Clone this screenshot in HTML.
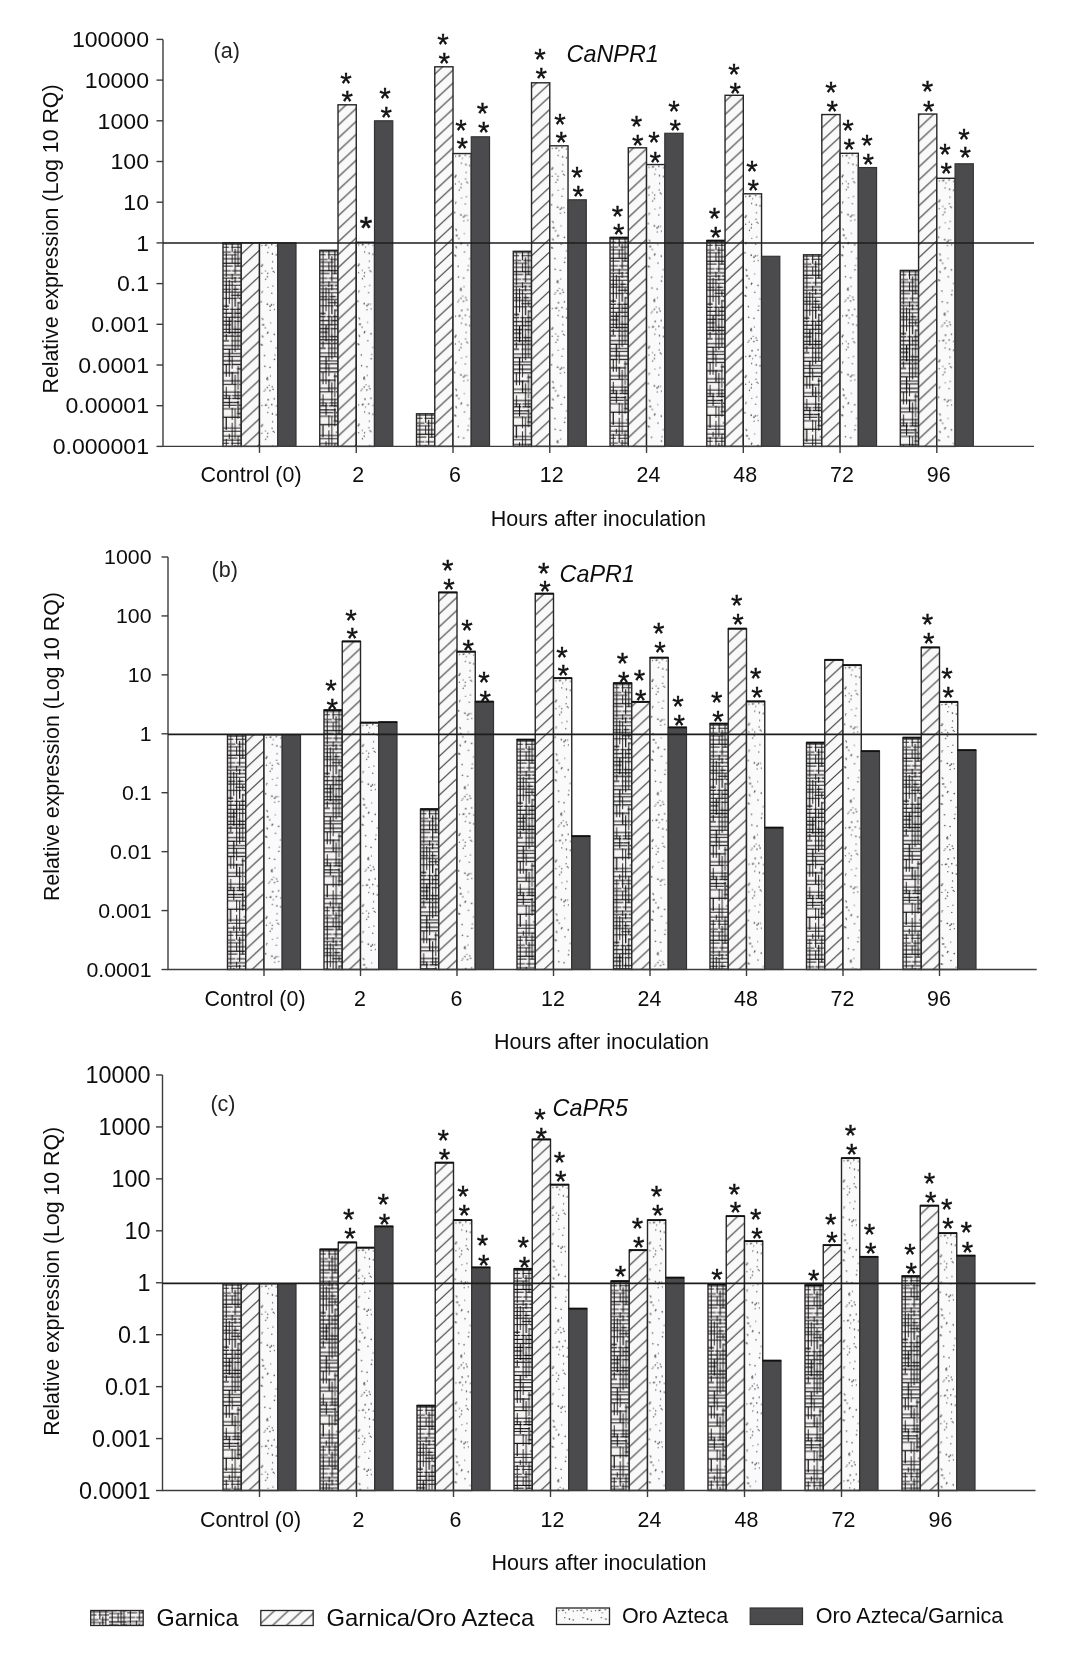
<!DOCTYPE html>
<html lang="en"><head><meta charset="utf-8"><title>Relative expression of CaNPR1, CaPR1 and CaPR5</title>
<style>html,body{margin:0;padding:0;background:#fff}body>svg{display:block;filter:blur(0.45px)}</style></head>
<body>
<svg width="1078" height="1659" viewBox="0 0 1078 1659" font-family="'Liberation Sans', Arial, sans-serif" fill="#0d0d0d">
<defs>
<pattern id="pw" patternUnits="userSpaceOnUse" width="18.25" height="196"><rect width="18.25" height="196" fill="#f6f3f3"/><path d="M0.0 1.2h18" stroke="#0d0d0d" stroke-width="1"/><path d="M18.0 1.2h14" stroke="#0d0d0d" stroke-width="0.9"/><path d="M0.0 4.4h6" stroke="#0d0d0d" stroke-width="0.9"/><path d="M8.0 4.4h18" stroke="#0d0d0d" stroke-width="0.9"/><path d="M0.0 9.2h8" stroke="#0d0d0d" stroke-width="0.9"/><path d="M10.0 9.2h8" stroke="#0d0d0d" stroke-width="0.9"/><path d="M18.0 9.2h18" stroke="#0d0d0d" stroke-width="0.9"/><path d="M0.0 12.0h6" stroke="#0d0d0d" stroke-width="0.9"/><path d="M6.0 12.0h8" stroke="#0d0d0d" stroke-width="0.9"/><path d="M0.0 16.0h10" stroke="#0d0d0d" stroke-width="1"/><path d="M10.0 16.0h8" stroke="#0d0d0d" stroke-width="1"/><path d="M0.0 20.4h18" stroke="#0d0d0d" stroke-width="1.2"/><path d="M0.0 23.2h10" stroke="#0d0d0d" stroke-width="1"/><path d="M12.0 23.2h18" stroke="#0d0d0d" stroke-width="1"/><path d="M0.0 28.0h8" stroke="#0d0d0d" stroke-width="0.9"/><path d="M9.0 28.0h14" stroke="#0d0d0d" stroke-width="1"/><path d="M0.0 32.0h18" stroke="#0d0d0d" stroke-width="1"/><path d="M18.0 32.0h18" stroke="#0d0d0d" stroke-width="0.9"/><path d="M0.0 35.2h14" stroke="#0d0d0d" stroke-width="1"/><path d="M15.0 35.2h14" stroke="#0d0d0d" stroke-width="1.2"/><path d="M0.0 38.8h6" stroke="#0d0d0d" stroke-width="0.9"/><path d="M6.0 38.8h10" stroke="#0d0d0d" stroke-width="1"/><path d="M16.0 38.8h10" stroke="#0d0d0d" stroke-width="1.2"/><path d="M0.0 42.4h18" stroke="#0d0d0d" stroke-width="0.9"/><path d="M18.0 42.4h18" stroke="#0d0d0d" stroke-width="1.2"/><path d="M0.0 46.4h8" stroke="#0d0d0d" stroke-width="0.9"/><path d="M10.0 46.4h6" stroke="#0d0d0d" stroke-width="1.2"/><path d="M17.0 46.4h10" stroke="#0d0d0d" stroke-width="1"/><path d="M0.0 49.2h18" stroke="#0d0d0d" stroke-width="1"/><path d="M8.0 52.4h18" stroke="#0d0d0d" stroke-width="1"/><path d="M0.0 55.6h14" stroke="#0d0d0d" stroke-width="0.9"/><path d="M16.0 55.6h10" stroke="#0d0d0d" stroke-width="1.2"/><path d="M15.0 60.0h14" stroke="#0d0d0d" stroke-width="1"/><path d="M0.0 63.2h6" stroke="#0d0d0d" stroke-width="1.2"/><path d="M0.0 66.4h6" stroke="#0d0d0d" stroke-width="1.2"/><path d="M7.0 66.4h6" stroke="#0d0d0d" stroke-width="1"/><path d="M13.0 66.4h10" stroke="#0d0d0d" stroke-width="1.2"/><path d="M0.0 70.4h10" stroke="#0d0d0d" stroke-width="1.2"/><path d="M11.0 70.4h10" stroke="#0d0d0d" stroke-width="1.2"/><path d="M0.0 74.4h18" stroke="#0d0d0d" stroke-width="1"/><path d="M0.0 78.4h10" stroke="#0d0d0d" stroke-width="1.2"/><path d="M11.0 78.4h10" stroke="#0d0d0d" stroke-width="1"/><path d="M0.0 82.0h8" stroke="#0d0d0d" stroke-width="1.2"/><path d="M0.0 86.4h8" stroke="#0d0d0d" stroke-width="1"/><path d="M10.0 86.4h10" stroke="#0d0d0d" stroke-width="1.2"/><path d="M0.0 89.6h18" stroke="#0d0d0d" stroke-width="1.2"/><path d="M0.0 93.2h18" stroke="#0d0d0d" stroke-width="1.2"/><path d="M0.0 98.0h6" stroke="#0d0d0d" stroke-width="1.2"/><path d="M8.0 98.0h18" stroke="#0d0d0d" stroke-width="0.9"/><path d="M0.0 102.8h18" stroke="#0d0d0d" stroke-width="1"/><path d="M18.0 102.8h8" stroke="#0d0d0d" stroke-width="0.9"/><path d="M0.0 106.4h8" stroke="#0d0d0d" stroke-width="1.2"/><path d="M8.0 106.4h14" stroke="#0d0d0d" stroke-width="1"/><path d="M0.0 110.8h8" stroke="#0d0d0d" stroke-width="1"/><path d="M8.0 110.8h10" stroke="#0d0d0d" stroke-width="1"/><path d="M0.0 113.6h18" stroke="#0d0d0d" stroke-width="1"/><path d="M18.0 113.6h18" stroke="#0d0d0d" stroke-width="0.9"/><path d="M0.0 118.0h18" stroke="#0d0d0d" stroke-width="1.2"/><path d="M0.0 121.6h8" stroke="#0d0d0d" stroke-width="1.2"/><path d="M9.0 121.6h14" stroke="#0d0d0d" stroke-width="1.2"/><path d="M14.0 126.0h18" stroke="#0d0d0d" stroke-width="1.2"/><path d="M0.0 130.0h6" stroke="#0d0d0d" stroke-width="1.2"/><path d="M6.0 130.0h10" stroke="#0d0d0d" stroke-width="1.2"/><path d="M18.0 130.0h14" stroke="#0d0d0d" stroke-width="0.9"/><path d="M0.0 138.0h18" stroke="#0d0d0d" stroke-width="1"/><path d="M0.0 141.6h14" stroke="#0d0d0d" stroke-width="1"/><path d="M16.0 141.6h10" stroke="#0d0d0d" stroke-width="0.9"/><path d="M18.0 146.4h10" stroke="#0d0d0d" stroke-width="0.9"/><path d="M0.0 149.2h14" stroke="#0d0d0d" stroke-width="1"/><path d="M14.0 149.2h14" stroke="#0d0d0d" stroke-width="0.9"/><path d="M0.0 152.8h8" stroke="#0d0d0d" stroke-width="1"/><path d="M9.0 152.8h14" stroke="#0d0d0d" stroke-width="1"/><path d="M0.0 155.6h8" stroke="#0d0d0d" stroke-width="1.2"/><path d="M9.0 155.6h18" stroke="#0d0d0d" stroke-width="1.2"/><path d="M0.0 159.6h10" stroke="#0d0d0d" stroke-width="1.2"/><path d="M10.0 159.6h6" stroke="#0d0d0d" stroke-width="1.2"/><path d="M0.0 162.4h14" stroke="#0d0d0d" stroke-width="1"/><path d="M16.0 162.4h14" stroke="#0d0d0d" stroke-width="1.2"/><path d="M0.0 166.0h14" stroke="#0d0d0d" stroke-width="0.9"/><path d="M15.0 166.0h6" stroke="#0d0d0d" stroke-width="1"/><path d="M14.0 170.8h8" stroke="#0d0d0d" stroke-width="1.2"/><path d="M0.0 174.4h18" stroke="#0d0d0d" stroke-width="1.2"/><path d="M18.0 174.4h6" stroke="#0d0d0d" stroke-width="1"/><path d="M16.0 182.0h18" stroke="#0d0d0d" stroke-width="0.9"/><path d="M0.0 185.2h18" stroke="#0d0d0d" stroke-width="0.9"/><path d="M18.0 185.2h10" stroke="#0d0d0d" stroke-width="1"/><path d="M0.0 188.4h18" stroke="#0d0d0d" stroke-width="0.9"/><path d="M18.0 188.4h18" stroke="#0d0d0d" stroke-width="1.2"/><path d="M0.0 193.2h14" stroke="#0d0d0d" stroke-width="1"/><path d="M14.0 193.2h18" stroke="#0d0d0d" stroke-width="1.2"/><path d="M3.2 0.0v9" stroke="#0d0d0d" stroke-width="0.9"/><path d="M3.2 10.0v24" stroke="#0d0d0d" stroke-width="1"/><path d="M3.2 35.0v6" stroke="#0d0d0d" stroke-width="1"/><path d="M3.2 41.0v24" stroke="#0d0d0d" stroke-width="1.2"/><path d="M3.2 66.0v24" stroke="#0d0d0d" stroke-width="0.9"/><path d="M3.2 91.0v6" stroke="#0d0d0d" stroke-width="1"/><path d="M3.2 122.0v12" stroke="#0d0d0d" stroke-width="1"/><path d="M3.2 144.0v6" stroke="#0d0d0d" stroke-width="0.9"/><path d="M3.2 150.0v6" stroke="#0d0d0d" stroke-width="1"/><path d="M3.2 175.0v12" stroke="#0d0d0d" stroke-width="1.2"/><path d="M6.3 37.0v24" stroke="#0d0d0d" stroke-width="0.9"/><path d="M6.3 75.0v16" stroke="#0d0d0d" stroke-width="1.2"/><path d="M6.3 107.0v12" stroke="#0d0d0d" stroke-width="1.2"/><path d="M6.3 119.0v9" stroke="#0d0d0d" stroke-width="0.9"/><path d="M6.3 128.0v6" stroke="#0d0d0d" stroke-width="0.9"/><path d="M6.3 153.0v12" stroke="#0d0d0d" stroke-width="1"/><path d="M6.3 191.0v16" stroke="#0d0d0d" stroke-width="0.9"/><path d="M9.2 0.0v9" stroke="#0d0d0d" stroke-width="1"/><path d="M9.2 12.0v9" stroke="#0d0d0d" stroke-width="0.9"/><path d="M9.2 31.0v6" stroke="#0d0d0d" stroke-width="0.9"/><path d="M9.2 38.0v12" stroke="#0d0d0d" stroke-width="0.9"/><path d="M9.2 50.0v16" stroke="#0d0d0d" stroke-width="0.9"/><path d="M9.2 66.0v12" stroke="#0d0d0d" stroke-width="1.2"/><path d="M9.2 78.0v9" stroke="#0d0d0d" stroke-width="1.2"/><path d="M9.2 87.0v24" stroke="#0d0d0d" stroke-width="0.9"/><path d="M9.2 114.0v12" stroke="#0d0d0d" stroke-width="0.9"/><path d="M9.2 129.0v12" stroke="#0d0d0d" stroke-width="1.2"/><path d="M9.2 165.0v12" stroke="#0d0d0d" stroke-width="0.9"/><path d="M9.2 180.0v16" stroke="#0d0d0d" stroke-width="0.9"/><path d="M12.2 6.0v16" stroke="#0d0d0d" stroke-width="1"/><path d="M12.2 22.0v9" stroke="#0d0d0d" stroke-width="1"/><path d="M12.2 34.0v6" stroke="#0d0d0d" stroke-width="1"/><path d="M12.2 43.0v12" stroke="#0d0d0d" stroke-width="0.9"/><path d="M12.2 55.0v9" stroke="#0d0d0d" stroke-width="1.2"/><path d="M12.2 67.0v9" stroke="#0d0d0d" stroke-width="0.9"/><path d="M12.2 77.0v6" stroke="#0d0d0d" stroke-width="0.9"/><path d="M12.2 83.0v9" stroke="#0d0d0d" stroke-width="1"/><path d="M12.2 93.0v16" stroke="#0d0d0d" stroke-width="1"/><path d="M12.2 132.0v24" stroke="#0d0d0d" stroke-width="1"/><path d="M12.2 166.0v16" stroke="#0d0d0d" stroke-width="0.9"/><path d="M12.2 182.0v16" stroke="#0d0d0d" stroke-width="0.9"/><path d="M15.2 0.0v24" stroke="#0d0d0d" stroke-width="1"/><path d="M15.2 50.0v6" stroke="#0d0d0d" stroke-width="1"/><path d="M15.2 59.0v24" stroke="#0d0d0d" stroke-width="1"/><path d="M15.2 83.0v24" stroke="#0d0d0d" stroke-width="0.9"/><path d="M15.2 123.0v24" stroke="#0d0d0d" stroke-width="0.9"/><path d="M15.2 148.0v9" stroke="#0d0d0d" stroke-width="1"/><path d="M15.2 158.0v12" stroke="#0d0d0d" stroke-width="1.2"/><path d="M15.2 170.0v6" stroke="#0d0d0d" stroke-width="0.9"/><path d="M15.2 193.0v9" stroke="#0d0d0d" stroke-width="0.9"/></pattern>
<pattern id="pd" patternUnits="userSpaceOnUse" width="18.25" height="160"><rect width="18.25" height="160" fill="#fbfafa"/><circle cx="8.4" cy="89.6" r="0.8" fill="#444"/><circle cx="8.4" cy="136.8" r="0.65" fill="#444"/><circle cx="4.3" cy="81.9" r="0.65" fill="#444"/><circle cx="2.9" cy="48.5" r="0.6" fill="#444"/><circle cx="9.7" cy="142.5" r="0.6" fill="#444"/><circle cx="10.6" cy="63.4" r="0.8" fill="#444"/><circle cx="11.5" cy="98.5" r="0.65" fill="#444"/><circle cx="11.0" cy="133.1" r="0.6" fill="#444"/><circle cx="2.4" cy="30.4" r="0.65" fill="#444"/><circle cx="10.6" cy="124.5" r="0.75" fill="#444"/><circle cx="8.2" cy="134.8" r="0.65" fill="#444"/><circle cx="11.3" cy="80.0" r="0.6" fill="#444"/><circle cx="8.5" cy="44.5" r="0.6" fill="#444"/><circle cx="12.3" cy="50.4" r="0.65" fill="#444"/><circle cx="9.3" cy="4.8" r="0.6" fill="#444"/><circle cx="7.6" cy="135.5" r="0.8" fill="#444"/><circle cx="2.5" cy="2.7" r="0.6" fill="#444"/><circle cx="4.8" cy="148.3" r="0.6" fill="#444"/><circle cx="8.7" cy="156.9" r="0.8" fill="#444"/><circle cx="7.9" cy="90.6" r="0.65" fill="#444"/><circle cx="13.4" cy="43.2" r="0.6" fill="#444"/><circle cx="6.2" cy="2.4" r="0.8" fill="#444"/><circle cx="13.1" cy="18.9" r="0.65" fill="#444"/><circle cx="12.3" cy="1.8" r="0.8" fill="#444"/><circle cx="13.7" cy="28.4" r="0.65" fill="#444"/><circle cx="8.3" cy="30.5" r="0.65" fill="#444"/><circle cx="7.9" cy="61.4" r="0.8" fill="#444"/><circle cx="7.9" cy="34.1" r="0.75" fill="#444"/><circle cx="14.7" cy="156.0" r="0.75" fill="#444"/><circle cx="16.7" cy="3.1" r="0.65" fill="#444"/><circle cx="7.5" cy="136.7" r="0.6" fill="#444"/><circle cx="2.1" cy="23.4" r="0.8" fill="#444"/><circle cx="5.4" cy="123.6" r="0.75" fill="#444"/><circle cx="14.2" cy="61.8" r="0.6" fill="#444"/><circle cx="2.9" cy="93.2" r="0.65" fill="#444"/><circle cx="1.7" cy="59.0" r="0.8" fill="#444"/><circle cx="3.4" cy="94.0" r="0.65" fill="#444"/><circle cx="14.7" cy="29.3" r="0.65" fill="#444"/><circle cx="6.2" cy="36.5" r="0.65" fill="#444"/><circle cx="12.6" cy="25.4" r="0.65" fill="#444"/><circle cx="12.0" cy="62.1" r="0.8" fill="#444"/><circle cx="10.7" cy="67.4" r="0.6" fill="#444"/><circle cx="3.2" cy="82.0" r="0.75" fill="#444"/><circle cx="5.1" cy="112.7" r="0.75" fill="#444"/><circle cx="7.9" cy="144.8" r="0.8" fill="#444"/><circle cx="6.0" cy="28.1" r="0.6" fill="#444"/><circle cx="3.4" cy="76.7" r="0.6" fill="#444"/><circle cx="5.8" cy="146.8" r="0.65" fill="#444"/><circle cx="12.9" cy="11.1" r="0.8" fill="#444"/><circle cx="8.3" cy="9.7" r="0.65" fill="#444"/><circle cx="5.8" cy="85.0" r="0.65" fill="#444"/><circle cx="2.9" cy="22.1" r="0.8" fill="#444"/><circle cx="16.5" cy="105.1" r="0.65" fill="#444"/><circle cx="10.5" cy="147.8" r="0.8" fill="#444"/><circle cx="15.4" cy="112.2" r="0.6" fill="#444"/><circle cx="1.8" cy="101.8" r="0.8" fill="#444"/><circle cx="2.5" cy="49.8" r="0.65" fill="#444"/><circle cx="16.7" cy="12.0" r="0.75" fill="#444"/><circle cx="12.7" cy="144.0" r="0.65" fill="#444"/><circle cx="13.6" cy="146.4" r="0.75" fill="#444"/><circle cx="2.8" cy="75.7" r="0.6" fill="#444"/><circle cx="14.8" cy="66.7" r="0.6" fill="#444"/><circle cx="14.7" cy="91.6" r="0.8" fill="#444"/><circle cx="7.3" cy="2.0" r="0.6" fill="#444"/><circle cx="2.7" cy="102.3" r="0.75" fill="#444"/><circle cx="14.9" cy="116.5" r="0.8" fill="#444"/></pattern>
<pattern id="ph" patternUnits="userSpaceOnUse" width="13.9" height="12.95"><rect width="13.9" height="12.95" fill="#faf9f9"/><path d="M-13.9 25.9L27.8 -12.95M-13.9 12.95L13.9 -12.95M0 25.9L27.8 0" stroke="#3d3d3d" stroke-width="1.1" fill="none"/></pattern>
</defs>
<rect width="1078" height="1659" fill="#ffffff"/>
<svg x="223.00" y="242.80" width="18.25" height="203.60"><rect x="0" y="-46.80" width="18.25" height="399.60" fill="url(#pw)"/></svg>
<rect x="223.00" y="242.80" width="18.25" height="203.60" fill="none" stroke="#262626" stroke-width="1.4"/>
<rect x="241.25" y="242.80" width="18.25" height="203.60" fill="url(#ph)"/>
<rect x="241.25" y="242.80" width="18.25" height="203.60" fill="none" stroke="#262626" stroke-width="1.4"/>
<svg x="259.50" y="242.80" width="18.25" height="203.60"><rect x="0" y="-82.80" width="18.25" height="399.60" fill="url(#pd)"/></svg>
<rect x="259.50" y="242.80" width="18.25" height="203.60" fill="none" stroke="#262626" stroke-width="1.4"/>
<rect x="277.75" y="242.80" width="18.25" height="203.60" fill="#4b4b4d" stroke="#333" stroke-width="1.2"/>
<svg x="319.76" y="250.30" width="18.25" height="196.10"><rect x="0" y="-54.30" width="18.25" height="392.10" fill="url(#pw)"/></svg>
<rect x="319.76" y="250.30" width="18.25" height="196.10" fill="none" stroke="#262626" stroke-width="1.4"/>
<rect x="338.01" y="104.80" width="18.25" height="341.60" fill="url(#ph)"/>
<rect x="338.01" y="104.80" width="18.25" height="341.60" fill="none" stroke="#262626" stroke-width="1.4"/>
<svg x="356.26" y="242.30" width="18.25" height="204.10"><rect x="0" y="-82.30" width="18.25" height="400.10" fill="url(#pd)"/></svg>
<rect x="356.26" y="242.30" width="18.25" height="204.10" fill="none" stroke="#262626" stroke-width="1.4"/>
<rect x="374.51" y="120.80" width="18.25" height="325.60" fill="#4b4b4d" stroke="#333" stroke-width="1.2"/>
<svg x="416.52" y="413.80" width="18.25" height="32.60"><rect x="0" y="-21.80" width="18.25" height="228.60" fill="url(#pw)"/></svg>
<rect x="416.52" y="413.80" width="18.25" height="32.60" fill="none" stroke="#262626" stroke-width="1.4"/>
<rect x="434.77" y="66.80" width="18.25" height="379.60" fill="url(#ph)"/>
<rect x="434.77" y="66.80" width="18.25" height="379.60" fill="none" stroke="#262626" stroke-width="1.4"/>
<svg x="453.02" y="153.55" width="18.25" height="292.85"><rect x="0" y="-153.55" width="18.25" height="488.85" fill="url(#pd)"/></svg>
<rect x="453.02" y="153.55" width="18.25" height="292.85" fill="none" stroke="#262626" stroke-width="1.4"/>
<rect x="471.27" y="136.80" width="18.25" height="309.60" fill="#4b4b4d" stroke="#333" stroke-width="1.2"/>
<svg x="513.28" y="251.30" width="18.25" height="195.10"><rect x="0" y="-55.30" width="18.25" height="391.10" fill="url(#pw)"/></svg>
<rect x="513.28" y="251.30" width="18.25" height="195.10" fill="none" stroke="#262626" stroke-width="1.4"/>
<rect x="531.53" y="82.80" width="18.25" height="363.60" fill="url(#ph)"/>
<rect x="531.53" y="82.80" width="18.25" height="363.60" fill="none" stroke="#262626" stroke-width="1.4"/>
<svg x="549.78" y="145.80" width="18.25" height="300.60"><rect x="0" y="-145.80" width="18.25" height="496.60" fill="url(#pd)"/></svg>
<rect x="549.78" y="145.80" width="18.25" height="300.60" fill="none" stroke="#262626" stroke-width="1.4"/>
<rect x="568.03" y="199.80" width="18.25" height="246.60" fill="#4b4b4d" stroke="#333" stroke-width="1.2"/>
<svg x="610.04" y="237.80" width="18.25" height="208.60"><rect x="0" y="-41.80" width="18.25" height="404.60" fill="url(#pw)"/></svg>
<rect x="610.04" y="237.80" width="18.25" height="208.60" fill="none" stroke="#262626" stroke-width="1.4"/>
<path d="M609.74 237.60h18.85" stroke="#111" stroke-width="1.9"/>
<rect x="628.29" y="147.80" width="18.25" height="298.60" fill="url(#ph)"/>
<rect x="628.29" y="147.80" width="18.25" height="298.60" fill="none" stroke="#262626" stroke-width="1.4"/>
<svg x="646.54" y="164.55" width="18.25" height="281.85"><rect x="0" y="-4.55" width="18.25" height="477.85" fill="url(#pd)"/></svg>
<rect x="646.54" y="164.55" width="18.25" height="281.85" fill="none" stroke="#262626" stroke-width="1.4"/>
<rect x="664.79" y="133.30" width="18.25" height="313.10" fill="#4b4b4d" stroke="#333" stroke-width="1.2"/>
<svg x="706.80" y="240.80" width="18.25" height="205.60"><rect x="0" y="-44.80" width="18.25" height="401.60" fill="url(#pw)"/></svg>
<rect x="706.80" y="240.80" width="18.25" height="205.60" fill="none" stroke="#262626" stroke-width="1.4"/>
<path d="M706.50 240.60h18.85" stroke="#111" stroke-width="1.9"/>
<rect x="725.05" y="95.30" width="18.25" height="351.10" fill="url(#ph)"/>
<rect x="725.05" y="95.30" width="18.25" height="351.10" fill="none" stroke="#262626" stroke-width="1.4"/>
<svg x="743.30" y="193.80" width="18.25" height="252.60"><rect x="0" y="-33.80" width="18.25" height="448.60" fill="url(#pd)"/></svg>
<rect x="743.30" y="193.80" width="18.25" height="252.60" fill="none" stroke="#262626" stroke-width="1.4"/>
<rect x="761.55" y="256.30" width="18.25" height="190.10" fill="#4b4b4d" stroke="#333" stroke-width="1.2"/>
<svg x="803.56" y="254.80" width="18.25" height="191.60"><rect x="0" y="-58.80" width="18.25" height="387.60" fill="url(#pw)"/></svg>
<rect x="803.56" y="254.80" width="18.25" height="191.60" fill="none" stroke="#262626" stroke-width="1.4"/>
<rect x="821.81" y="114.55" width="18.25" height="331.85" fill="url(#ph)"/>
<rect x="821.81" y="114.55" width="18.25" height="331.85" fill="none" stroke="#262626" stroke-width="1.4"/>
<svg x="840.06" y="153.30" width="18.25" height="293.10"><rect x="0" y="-153.30" width="18.25" height="489.10" fill="url(#pd)"/></svg>
<rect x="840.06" y="153.30" width="18.25" height="293.10" fill="none" stroke="#262626" stroke-width="1.4"/>
<rect x="858.31" y="167.55" width="18.25" height="278.85" fill="#4b4b4d" stroke="#333" stroke-width="1.2"/>
<svg x="900.32" y="270.40" width="18.25" height="176.00"><rect x="0" y="-74.40" width="18.25" height="372.00" fill="url(#pw)"/></svg>
<rect x="900.32" y="270.40" width="18.25" height="176.00" fill="none" stroke="#262626" stroke-width="1.4"/>
<rect x="918.57" y="114.05" width="18.25" height="332.35" fill="url(#ph)"/>
<rect x="918.57" y="114.05" width="18.25" height="332.35" fill="none" stroke="#262626" stroke-width="1.4"/>
<svg x="936.82" y="178.30" width="18.25" height="268.10"><rect x="0" y="-18.30" width="18.25" height="464.10" fill="url(#pd)"/></svg>
<rect x="936.82" y="178.30" width="18.25" height="268.10" fill="none" stroke="#262626" stroke-width="1.4"/>
<rect x="955.07" y="163.80" width="18.25" height="282.60" fill="#4b4b4d" stroke="#333" stroke-width="1.2"/>
<path d="M163 39.4V446.4H1034" stroke="#3c3c3c" stroke-width="1.4" fill="none"/>
<path d="M163 243.0H1034" stroke="#1c1c1c" stroke-width="1.6"/>
<path d="M156.5 39.40H163" stroke="#3c3c3c" stroke-width="1.4"/>
<text x="149" y="47.14" font-size="22.3" text-anchor="end" textLength="77.1" lengthAdjust="spacingAndGlyphs">100000</text>
<path d="M156.5 80.10H163" stroke="#3c3c3c" stroke-width="1.4"/>
<text x="149" y="87.84" font-size="22.3" text-anchor="end" textLength="64.2" lengthAdjust="spacingAndGlyphs">10000</text>
<path d="M156.5 120.80H163" stroke="#3c3c3c" stroke-width="1.4"/>
<text x="149" y="128.54" font-size="22.3" text-anchor="end" textLength="51.4" lengthAdjust="spacingAndGlyphs">1000</text>
<path d="M156.5 161.50H163" stroke="#3c3c3c" stroke-width="1.4"/>
<text x="149" y="169.24" font-size="22.3" text-anchor="end" textLength="38.5" lengthAdjust="spacingAndGlyphs">100</text>
<path d="M156.5 202.20H163" stroke="#3c3c3c" stroke-width="1.4"/>
<text x="149" y="209.94" font-size="22.3" text-anchor="end" textLength="25.7" lengthAdjust="spacingAndGlyphs">10</text>
<path d="M156.5 242.90H163" stroke="#3c3c3c" stroke-width="1.4"/>
<text x="149" y="250.64" font-size="22.3" text-anchor="end" textLength="12.8" lengthAdjust="spacingAndGlyphs">1</text>
<path d="M156.5 283.60H163" stroke="#3c3c3c" stroke-width="1.4"/>
<text x="149" y="291.34" font-size="22.3" text-anchor="end" textLength="32.1" lengthAdjust="spacingAndGlyphs">0.1</text>
<path d="M156.5 324.30H163" stroke="#3c3c3c" stroke-width="1.4"/>
<text x="149" y="332.04" font-size="22.3" text-anchor="end" textLength="57.8" lengthAdjust="spacingAndGlyphs">0.001</text>
<path d="M156.5 365.00H163" stroke="#3c3c3c" stroke-width="1.4"/>
<text x="149" y="372.74" font-size="22.3" text-anchor="end" textLength="70.7" lengthAdjust="spacingAndGlyphs">0.0001</text>
<path d="M156.5 405.70H163" stroke="#3c3c3c" stroke-width="1.4"/>
<text x="149" y="413.44" font-size="22.3" text-anchor="end" textLength="83.5" lengthAdjust="spacingAndGlyphs">0.00001</text>
<path d="M156.5 446.40H163" stroke="#3c3c3c" stroke-width="1.4"/>
<text x="149" y="454.14" font-size="22.3" text-anchor="end" textLength="96.3" lengthAdjust="spacingAndGlyphs">0.000001</text>
<path d="M259.50 446.4v6.5" stroke="#3c3c3c" stroke-width="1.4"/>
<text x="251" y="482.1" font-size="21.4" text-anchor="middle">Control (0)</text>
<path d="M356.26 446.4v6.5" stroke="#3c3c3c" stroke-width="1.4"/>
<text x="358.16" y="482.1" font-size="21.4" text-anchor="middle">2</text>
<path d="M453.02 446.4v6.5" stroke="#3c3c3c" stroke-width="1.4"/>
<text x="454.92" y="482.1" font-size="21.4" text-anchor="middle">6</text>
<path d="M549.78 446.4v6.5" stroke="#3c3c3c" stroke-width="1.4"/>
<text x="551.68" y="482.1" font-size="21.4" text-anchor="middle">12</text>
<path d="M646.54 446.4v6.5" stroke="#3c3c3c" stroke-width="1.4"/>
<text x="648.44" y="482.1" font-size="21.4" text-anchor="middle">24</text>
<path d="M743.30 446.4v6.5" stroke="#3c3c3c" stroke-width="1.4"/>
<text x="745.20" y="482.1" font-size="21.4" text-anchor="middle">48</text>
<path d="M840.06 446.4v6.5" stroke="#3c3c3c" stroke-width="1.4"/>
<text x="841.96" y="482.1" font-size="21.4" text-anchor="middle">72</text>
<path d="M936.82 446.4v6.5" stroke="#3c3c3c" stroke-width="1.4"/>
<text x="938.72" y="482.1" font-size="21.4" text-anchor="middle">96</text>
<text x="598.3" y="525.5" font-size="21.5" text-anchor="middle">Hours after inoculation</text>
<text transform="translate(57.6 239) rotate(-90)" font-size="21.3" text-anchor="middle">Relative expression (Log 10 RQ)</text>
<text x="213.6" y="57.7" font-size="21.5" fill="#222">(a)</text>
<text x="566.5" y="61.5" font-size="23.4" font-style="italic">CaNPR1</text>
<text x="346.00" y="92.57" font-size="29.5" text-anchor="middle" fill="#111" stroke="#111" stroke-width="0.35">*</text>
<text x="347.20" y="110.57" font-size="29.5" text-anchor="middle" fill="#111" stroke="#111" stroke-width="0.35">*</text>
<text x="365.90" y="239.36" font-size="32" text-anchor="middle" fill="#111" stroke="#111" stroke-width="0.7">*</text>
<text x="385.00" y="107.57" font-size="29.5" text-anchor="middle" fill="#111" stroke="#111" stroke-width="0.35">*</text>
<text x="386.20" y="126.57" font-size="29.5" text-anchor="middle" fill="#111" stroke="#111" stroke-width="0.35">*</text>
<text x="443.00" y="53.57" font-size="29.5" text-anchor="middle" fill="#111" stroke="#111" stroke-width="0.35">*</text>
<text x="444.20" y="72.57" font-size="29.5" text-anchor="middle" fill="#111" stroke="#111" stroke-width="0.35">*</text>
<text x="461.00" y="139.57" font-size="29.5" text-anchor="middle" fill="#111" stroke="#111" stroke-width="0.35">*</text>
<text x="462.20" y="158.07" font-size="29.5" text-anchor="middle" fill="#111" stroke="#111" stroke-width="0.35">*</text>
<text x="482.50" y="122.57" font-size="29.5" text-anchor="middle" fill="#111" stroke="#111" stroke-width="0.35">*</text>
<text x="483.70" y="141.57" font-size="29.5" text-anchor="middle" fill="#111" stroke="#111" stroke-width="0.35">*</text>
<text x="540.00" y="68.57" font-size="29.5" text-anchor="middle" fill="#111" stroke="#111" stroke-width="0.35">*</text>
<text x="541.20" y="87.57" font-size="29.5" text-anchor="middle" fill="#111" stroke="#111" stroke-width="0.35">*</text>
<text x="560.00" y="133.57" font-size="29.5" text-anchor="middle" fill="#111" stroke="#111" stroke-width="0.35">*</text>
<text x="561.20" y="151.57" font-size="29.5" text-anchor="middle" fill="#111" stroke="#111" stroke-width="0.35">*</text>
<text x="577.00" y="186.57" font-size="29.5" text-anchor="middle" fill="#111" stroke="#111" stroke-width="0.35">*</text>
<text x="578.20" y="206.07" font-size="29.5" text-anchor="middle" fill="#111" stroke="#111" stroke-width="0.35">*</text>
<text x="617.50" y="225.57" font-size="29.5" text-anchor="middle" fill="#111" stroke="#111" stroke-width="0.35">*</text>
<text x="618.70" y="244.07" font-size="29.5" text-anchor="middle" fill="#111" stroke="#111" stroke-width="0.35">*</text>
<text x="636.50" y="135.57" font-size="29.5" text-anchor="middle" fill="#111" stroke="#111" stroke-width="0.35">*</text>
<text x="637.70" y="154.57" font-size="29.5" text-anchor="middle" fill="#111" stroke="#111" stroke-width="0.35">*</text>
<text x="654.00" y="152.07" font-size="29.5" text-anchor="middle" fill="#111" stroke="#111" stroke-width="0.35">*</text>
<text x="655.20" y="171.57" font-size="29.5" text-anchor="middle" fill="#111" stroke="#111" stroke-width="0.35">*</text>
<text x="674.00" y="120.57" font-size="29.5" text-anchor="middle" fill="#111" stroke="#111" stroke-width="0.35">*</text>
<text x="675.20" y="139.57" font-size="29.5" text-anchor="middle" fill="#111" stroke="#111" stroke-width="0.35">*</text>
<text x="714.50" y="227.57" font-size="29.5" text-anchor="middle" fill="#111" stroke="#111" stroke-width="0.35">*</text>
<text x="715.70" y="247.07" font-size="29.5" text-anchor="middle" fill="#111" stroke="#111" stroke-width="0.35">*</text>
<text x="734.00" y="83.57" font-size="29.5" text-anchor="middle" fill="#111" stroke="#111" stroke-width="0.35">*</text>
<text x="735.20" y="102.57" font-size="29.5" text-anchor="middle" fill="#111" stroke="#111" stroke-width="0.35">*</text>
<text x="752.00" y="180.57" font-size="29.5" text-anchor="middle" fill="#111" stroke="#111" stroke-width="0.35">*</text>
<text x="753.20" y="199.57" font-size="29.5" text-anchor="middle" fill="#111" stroke="#111" stroke-width="0.35">*</text>
<text x="831.00" y="101.57" font-size="29.5" text-anchor="middle" fill="#111" stroke="#111" stroke-width="0.35">*</text>
<text x="832.20" y="120.57" font-size="29.5" text-anchor="middle" fill="#111" stroke="#111" stroke-width="0.35">*</text>
<text x="848.00" y="140.07" font-size="29.5" text-anchor="middle" fill="#111" stroke="#111" stroke-width="0.35">*</text>
<text x="849.20" y="158.57" font-size="29.5" text-anchor="middle" fill="#111" stroke="#111" stroke-width="0.35">*</text>
<text x="867.00" y="154.57" font-size="29.5" text-anchor="middle" fill="#111" stroke="#111" stroke-width="0.35">*</text>
<text x="868.20" y="173.57" font-size="29.5" text-anchor="middle" fill="#111" stroke="#111" stroke-width="0.35">*</text>
<text x="927.50" y="100.57" font-size="29.5" text-anchor="middle" fill="#111" stroke="#111" stroke-width="0.35">*</text>
<text x="928.70" y="120.57" font-size="29.5" text-anchor="middle" fill="#111" stroke="#111" stroke-width="0.35">*</text>
<text x="945.00" y="163.57" font-size="29.5" text-anchor="middle" fill="#111" stroke="#111" stroke-width="0.35">*</text>
<text x="946.20" y="182.57" font-size="29.5" text-anchor="middle" fill="#111" stroke="#111" stroke-width="0.35">*</text>
<text x="964.00" y="148.57" font-size="29.5" text-anchor="middle" fill="#111" stroke="#111" stroke-width="0.35">*</text>
<text x="965.20" y="167.07" font-size="29.5" text-anchor="middle" fill="#111" stroke="#111" stroke-width="0.35">*</text>
<svg x="227.50" y="734.80" width="18.25" height="234.70"><rect x="0" y="-146.80" width="18.25" height="430.70" fill="url(#pw)"/></svg>
<rect x="227.50" y="734.80" width="18.25" height="234.70" fill="none" stroke="#262626" stroke-width="1.4"/>
<rect x="245.75" y="734.80" width="18.25" height="234.70" fill="url(#ph)"/>
<rect x="245.75" y="734.80" width="18.25" height="234.70" fill="none" stroke="#262626" stroke-width="1.4"/>
<svg x="264.00" y="734.80" width="18.25" height="234.70"><rect x="0" y="-94.80" width="18.25" height="430.70" fill="url(#pd)"/></svg>
<rect x="264.00" y="734.80" width="18.25" height="234.70" fill="none" stroke="#262626" stroke-width="1.4"/>
<rect x="282.25" y="734.80" width="18.25" height="234.70" fill="#4b4b4d" stroke="#333" stroke-width="1.2"/>
<svg x="324.00" y="710.30" width="18.25" height="259.20"><rect x="0" y="-122.30" width="18.25" height="455.20" fill="url(#pw)"/></svg>
<rect x="324.00" y="710.30" width="18.25" height="259.20" fill="none" stroke="#262626" stroke-width="1.4"/>
<path d="M323.70 710.10h18.85" stroke="#111" stroke-width="1.9"/>
<rect x="342.25" y="641.55" width="18.25" height="327.95" fill="url(#ph)"/>
<rect x="342.25" y="641.55" width="18.25" height="327.95" fill="none" stroke="#262626" stroke-width="1.4"/>
<path d="M341.95 641.35h18.85" stroke="#111" stroke-width="1.9"/>
<svg x="360.50" y="722.80" width="18.25" height="246.70"><rect x="0" y="-82.80" width="18.25" height="442.70" fill="url(#pd)"/></svg>
<rect x="360.50" y="722.80" width="18.25" height="246.70" fill="none" stroke="#262626" stroke-width="1.4"/>
<path d="M360.20 722.60h18.85" stroke="#111" stroke-width="1.9"/>
<rect x="378.75" y="722.30" width="18.25" height="247.20" fill="#4b4b4d" stroke="#333" stroke-width="1.2"/>
<path d="M378.45 722.10h18.85" stroke="#111" stroke-width="1.9"/>
<svg x="420.50" y="809.30" width="18.25" height="160.20"><rect x="0" y="-25.30" width="18.25" height="356.20" fill="url(#pw)"/></svg>
<rect x="420.50" y="809.30" width="18.25" height="160.20" fill="none" stroke="#262626" stroke-width="1.4"/>
<path d="M420.20 809.10h18.85" stroke="#111" stroke-width="1.9"/>
<rect x="438.75" y="592.55" width="18.25" height="376.95" fill="url(#ph)"/>
<rect x="438.75" y="592.55" width="18.25" height="376.95" fill="none" stroke="#262626" stroke-width="1.4"/>
<path d="M438.45 592.35h18.85" stroke="#111" stroke-width="1.9"/>
<svg x="457.00" y="651.80" width="18.25" height="317.70"><rect x="0" y="-11.80" width="18.25" height="513.70" fill="url(#pd)"/></svg>
<rect x="457.00" y="651.80" width="18.25" height="317.70" fill="none" stroke="#262626" stroke-width="1.4"/>
<path d="M456.70 651.60h18.85" stroke="#111" stroke-width="1.9"/>
<rect x="475.25" y="701.80" width="18.25" height="267.70" fill="#4b4b4d" stroke="#333" stroke-width="1.2"/>
<path d="M474.95 701.60h18.85" stroke="#111" stroke-width="1.9"/>
<svg x="517.00" y="739.80" width="18.25" height="229.70"><rect x="0" y="-151.80" width="18.25" height="425.70" fill="url(#pw)"/></svg>
<rect x="517.00" y="739.80" width="18.25" height="229.70" fill="none" stroke="#262626" stroke-width="1.4"/>
<path d="M516.70 739.60h18.85" stroke="#111" stroke-width="1.9"/>
<rect x="535.25" y="593.80" width="18.25" height="375.70" fill="url(#ph)"/>
<rect x="535.25" y="593.80" width="18.25" height="375.70" fill="none" stroke="#262626" stroke-width="1.4"/>
<path d="M534.95 593.60h18.85" stroke="#111" stroke-width="1.9"/>
<svg x="553.50" y="678.30" width="18.25" height="291.20"><rect x="0" y="-38.30" width="18.25" height="487.20" fill="url(#pd)"/></svg>
<rect x="553.50" y="678.30" width="18.25" height="291.20" fill="none" stroke="#262626" stroke-width="1.4"/>
<path d="M553.20 678.10h18.85" stroke="#111" stroke-width="1.9"/>
<rect x="571.75" y="836.30" width="18.25" height="133.20" fill="#4b4b4d" stroke="#333" stroke-width="1.2"/>
<path d="M571.45 836.10h18.85" stroke="#111" stroke-width="1.9"/>
<svg x="613.50" y="683.30" width="18.25" height="286.20"><rect x="0" y="-95.30" width="18.25" height="482.20" fill="url(#pw)"/></svg>
<rect x="613.50" y="683.30" width="18.25" height="286.20" fill="none" stroke="#262626" stroke-width="1.4"/>
<path d="M613.20 683.10h18.85" stroke="#111" stroke-width="1.9"/>
<rect x="631.75" y="702.05" width="18.25" height="267.45" fill="url(#ph)"/>
<rect x="631.75" y="702.05" width="18.25" height="267.45" fill="none" stroke="#262626" stroke-width="1.4"/>
<path d="M631.45 701.85h18.85" stroke="#111" stroke-width="1.9"/>
<svg x="650.00" y="657.80" width="18.25" height="311.70"><rect x="0" y="-17.80" width="18.25" height="507.70" fill="url(#pd)"/></svg>
<rect x="650.00" y="657.80" width="18.25" height="311.70" fill="none" stroke="#262626" stroke-width="1.4"/>
<path d="M649.70 657.60h18.85" stroke="#111" stroke-width="1.9"/>
<rect x="668.25" y="727.55" width="18.25" height="241.95" fill="#4b4b4d" stroke="#333" stroke-width="1.2"/>
<path d="M667.95 727.35h18.85" stroke="#111" stroke-width="1.9"/>
<svg x="710.00" y="723.80" width="18.25" height="245.70"><rect x="0" y="-135.80" width="18.25" height="441.70" fill="url(#pw)"/></svg>
<rect x="710.00" y="723.80" width="18.25" height="245.70" fill="none" stroke="#262626" stroke-width="1.4"/>
<path d="M709.70 723.60h18.85" stroke="#111" stroke-width="1.9"/>
<rect x="728.25" y="628.80" width="18.25" height="340.70" fill="url(#ph)"/>
<rect x="728.25" y="628.80" width="18.25" height="340.70" fill="none" stroke="#262626" stroke-width="1.4"/>
<path d="M727.95 628.60h18.85" stroke="#111" stroke-width="1.9"/>
<svg x="746.50" y="701.55" width="18.25" height="267.95"><rect x="0" y="-61.55" width="18.25" height="463.95" fill="url(#pd)"/></svg>
<rect x="746.50" y="701.55" width="18.25" height="267.95" fill="none" stroke="#262626" stroke-width="1.4"/>
<path d="M746.20 701.35h18.85" stroke="#111" stroke-width="1.9"/>
<rect x="764.75" y="827.80" width="18.25" height="141.70" fill="#4b4b4d" stroke="#333" stroke-width="1.2"/>
<path d="M764.45 827.60h18.85" stroke="#111" stroke-width="1.9"/>
<svg x="806.50" y="742.80" width="18.25" height="226.70"><rect x="0" y="-154.80" width="18.25" height="422.70" fill="url(#pw)"/></svg>
<rect x="806.50" y="742.80" width="18.25" height="226.70" fill="none" stroke="#262626" stroke-width="1.4"/>
<path d="M806.20 742.60h18.85" stroke="#111" stroke-width="1.9"/>
<rect x="824.75" y="660.05" width="18.25" height="309.45" fill="url(#ph)"/>
<rect x="824.75" y="660.05" width="18.25" height="309.45" fill="none" stroke="#262626" stroke-width="1.4"/>
<path d="M824.45 659.85h18.85" stroke="#111" stroke-width="1.9"/>
<svg x="843.00" y="665.30" width="18.25" height="304.20"><rect x="0" y="-25.30" width="18.25" height="500.20" fill="url(#pd)"/></svg>
<rect x="843.00" y="665.30" width="18.25" height="304.20" fill="none" stroke="#262626" stroke-width="1.4"/>
<path d="M842.70 665.10h18.85" stroke="#111" stroke-width="1.9"/>
<rect x="861.25" y="751.30" width="18.25" height="218.20" fill="#4b4b4d" stroke="#333" stroke-width="1.2"/>
<path d="M860.95 751.10h18.85" stroke="#111" stroke-width="1.9"/>
<svg x="903.00" y="737.80" width="18.25" height="231.70"><rect x="0" y="-149.80" width="18.25" height="427.70" fill="url(#pw)"/></svg>
<rect x="903.00" y="737.80" width="18.25" height="231.70" fill="none" stroke="#262626" stroke-width="1.4"/>
<path d="M902.70 737.60h18.85" stroke="#111" stroke-width="1.9"/>
<rect x="921.25" y="647.55" width="18.25" height="321.95" fill="url(#ph)"/>
<rect x="921.25" y="647.55" width="18.25" height="321.95" fill="none" stroke="#262626" stroke-width="1.4"/>
<path d="M920.95 647.35h18.85" stroke="#111" stroke-width="1.9"/>
<svg x="939.50" y="702.05" width="18.25" height="267.45"><rect x="0" y="-62.05" width="18.25" height="463.45" fill="url(#pd)"/></svg>
<rect x="939.50" y="702.05" width="18.25" height="267.45" fill="none" stroke="#262626" stroke-width="1.4"/>
<path d="M939.20 701.85h18.85" stroke="#111" stroke-width="1.9"/>
<rect x="957.75" y="750.30" width="18.25" height="219.20" fill="#4b4b4d" stroke="#333" stroke-width="1.2"/>
<path d="M957.45 750.10h18.85" stroke="#111" stroke-width="1.9"/>
<path d="M168 557V969.5H1036.7" stroke="#3c3c3c" stroke-width="1.4" fill="none"/>
<path d="M168 734.4H1036.7" stroke="#1c1c1c" stroke-width="1.6"/>
<path d="M161.5 557.00H168" stroke="#3c3c3c" stroke-width="1.4"/>
<text x="151.5" y="564.08" font-size="20.4" text-anchor="end" textLength="47.4" lengthAdjust="spacingAndGlyphs">1000</text>
<path d="M161.5 615.93H168" stroke="#3c3c3c" stroke-width="1.4"/>
<text x="151.5" y="623.01" font-size="20.4" text-anchor="end" textLength="35.5" lengthAdjust="spacingAndGlyphs">100</text>
<path d="M161.5 674.86H168" stroke="#3c3c3c" stroke-width="1.4"/>
<text x="151.5" y="681.94" font-size="20.4" text-anchor="end" textLength="23.7" lengthAdjust="spacingAndGlyphs">10</text>
<path d="M161.5 733.79H168" stroke="#3c3c3c" stroke-width="1.4"/>
<text x="151.5" y="740.87" font-size="20.4" text-anchor="end" textLength="11.8" lengthAdjust="spacingAndGlyphs">1</text>
<path d="M161.5 792.72H168" stroke="#3c3c3c" stroke-width="1.4"/>
<text x="151.5" y="799.80" font-size="20.4" text-anchor="end" textLength="29.6" lengthAdjust="spacingAndGlyphs">0.1</text>
<path d="M161.5 851.65H168" stroke="#3c3c3c" stroke-width="1.4"/>
<text x="151.5" y="858.73" font-size="20.4" text-anchor="end" textLength="41.5" lengthAdjust="spacingAndGlyphs">0.01</text>
<path d="M161.5 910.58H168" stroke="#3c3c3c" stroke-width="1.4"/>
<text x="151.5" y="917.66" font-size="20.4" text-anchor="end" textLength="53.3" lengthAdjust="spacingAndGlyphs">0.001</text>
<path d="M161.5 969.51H168" stroke="#3c3c3c" stroke-width="1.4"/>
<text x="151.5" y="976.59" font-size="20.4" text-anchor="end" textLength="65.1" lengthAdjust="spacingAndGlyphs">0.0001</text>
<path d="M264.00 969.5v6.5" stroke="#3c3c3c" stroke-width="1.4"/>
<text x="255" y="1006" font-size="21.4" text-anchor="middle">Control (0)</text>
<path d="M360.50 969.5v6.5" stroke="#3c3c3c" stroke-width="1.4"/>
<text x="360.00" y="1006" font-size="21.4" text-anchor="middle">2</text>
<path d="M457.00 969.5v6.5" stroke="#3c3c3c" stroke-width="1.4"/>
<text x="456.50" y="1006" font-size="21.4" text-anchor="middle">6</text>
<path d="M553.50 969.5v6.5" stroke="#3c3c3c" stroke-width="1.4"/>
<text x="553.00" y="1006" font-size="21.4" text-anchor="middle">12</text>
<path d="M650.00 969.5v6.5" stroke="#3c3c3c" stroke-width="1.4"/>
<text x="649.50" y="1006" font-size="21.4" text-anchor="middle">24</text>
<path d="M746.50 969.5v6.5" stroke="#3c3c3c" stroke-width="1.4"/>
<text x="746.00" y="1006" font-size="21.4" text-anchor="middle">48</text>
<path d="M843.00 969.5v6.5" stroke="#3c3c3c" stroke-width="1.4"/>
<text x="842.50" y="1006" font-size="21.4" text-anchor="middle">72</text>
<path d="M939.50 969.5v6.5" stroke="#3c3c3c" stroke-width="1.4"/>
<text x="939.00" y="1006" font-size="21.4" text-anchor="middle">96</text>
<text x="601.5" y="1049" font-size="21.5" text-anchor="middle">Hours after inoculation</text>
<text transform="translate(58.5 746.6) rotate(-90)" font-size="21.3" text-anchor="middle">Relative expression (Log 10 RQ)</text>
<text x="211.6" y="576.5" font-size="21.5" fill="#222">(b)</text>
<text x="559.5" y="582" font-size="23.4" font-style="italic">CaPR1</text>
<text x="331.00" y="700.27" font-size="29.5" text-anchor="middle" fill="#111" stroke="#111" stroke-width="0.35">*</text>
<text x="332.20" y="718.77" font-size="29.5" text-anchor="middle" fill="#111" stroke="#111" stroke-width="0.35">*</text>
<text x="351.00" y="629.52" font-size="29.5" text-anchor="middle" fill="#111" stroke="#111" stroke-width="0.35">*</text>
<text x="352.20" y="648.27" font-size="29.5" text-anchor="middle" fill="#111" stroke="#111" stroke-width="0.35">*</text>
<text x="447.75" y="579.77" font-size="29.5" text-anchor="middle" fill="#111" stroke="#111" stroke-width="0.35">*</text>
<text x="448.95" y="598.77" font-size="29.5" text-anchor="middle" fill="#111" stroke="#111" stroke-width="0.35">*</text>
<text x="467.00" y="640.27" font-size="29.5" text-anchor="middle" fill="#111" stroke="#111" stroke-width="0.35">*</text>
<text x="468.20" y="659.77" font-size="29.5" text-anchor="middle" fill="#111" stroke="#111" stroke-width="0.35">*</text>
<text x="484.00" y="691.52" font-size="29.5" text-anchor="middle" fill="#111" stroke="#111" stroke-width="0.35">*</text>
<text x="485.20" y="710.77" font-size="29.5" text-anchor="middle" fill="#111" stroke="#111" stroke-width="0.35">*</text>
<text x="543.75" y="582.52" font-size="29.5" text-anchor="middle" fill="#111" stroke="#111" stroke-width="0.35">*</text>
<text x="544.95" y="601.27" font-size="29.5" text-anchor="middle" fill="#111" stroke="#111" stroke-width="0.35">*</text>
<text x="562.00" y="666.77" font-size="29.5" text-anchor="middle" fill="#111" stroke="#111" stroke-width="0.35">*</text>
<text x="563.20" y="685.27" font-size="29.5" text-anchor="middle" fill="#111" stroke="#111" stroke-width="0.35">*</text>
<text x="622.50" y="672.77" font-size="29.5" text-anchor="middle" fill="#111" stroke="#111" stroke-width="0.35">*</text>
<text x="623.70" y="691.52" font-size="29.5" text-anchor="middle" fill="#111" stroke="#111" stroke-width="0.35">*</text>
<text x="639.50" y="690.27" font-size="29.5" text-anchor="middle" fill="#111" stroke="#111" stroke-width="0.35">*</text>
<text x="640.70" y="709.52" font-size="29.5" text-anchor="middle" fill="#111" stroke="#111" stroke-width="0.35">*</text>
<text x="658.75" y="642.52" font-size="29.5" text-anchor="middle" fill="#111" stroke="#111" stroke-width="0.35">*</text>
<text x="659.95" y="662.02" font-size="29.5" text-anchor="middle" fill="#111" stroke="#111" stroke-width="0.35">*</text>
<text x="678.00" y="715.77" font-size="29.5" text-anchor="middle" fill="#111" stroke="#111" stroke-width="0.35">*</text>
<text x="679.20" y="735.02" font-size="29.5" text-anchor="middle" fill="#111" stroke="#111" stroke-width="0.35">*</text>
<text x="716.75" y="711.52" font-size="29.5" text-anchor="middle" fill="#111" stroke="#111" stroke-width="0.35">*</text>
<text x="717.95" y="730.77" font-size="29.5" text-anchor="middle" fill="#111" stroke="#111" stroke-width="0.35">*</text>
<text x="736.75" y="614.52" font-size="29.5" text-anchor="middle" fill="#111" stroke="#111" stroke-width="0.35">*</text>
<text x="737.95" y="633.77" font-size="29.5" text-anchor="middle" fill="#111" stroke="#111" stroke-width="0.35">*</text>
<text x="755.75" y="687.77" font-size="29.5" text-anchor="middle" fill="#111" stroke="#111" stroke-width="0.35">*</text>
<text x="756.95" y="707.02" font-size="29.5" text-anchor="middle" fill="#111" stroke="#111" stroke-width="0.35">*</text>
<text x="927.50" y="633.77" font-size="29.5" text-anchor="middle" fill="#111" stroke="#111" stroke-width="0.35">*</text>
<text x="928.70" y="653.27" font-size="29.5" text-anchor="middle" fill="#111" stroke="#111" stroke-width="0.35">*</text>
<text x="947.00" y="687.52" font-size="29.5" text-anchor="middle" fill="#111" stroke="#111" stroke-width="0.35">*</text>
<text x="948.20" y="706.52" font-size="29.5" text-anchor="middle" fill="#111" stroke="#111" stroke-width="0.35">*</text>
<svg x="223.00" y="1283.80" width="18.25" height="206.70"><rect x="0" y="-107.80" width="18.25" height="402.70" fill="url(#pw)"/></svg>
<rect x="223.00" y="1283.80" width="18.25" height="206.70" fill="none" stroke="#262626" stroke-width="1.4"/>
<rect x="241.25" y="1283.80" width="18.25" height="206.70" fill="url(#ph)"/>
<rect x="241.25" y="1283.80" width="18.25" height="206.70" fill="none" stroke="#262626" stroke-width="1.4"/>
<svg x="259.50" y="1283.80" width="18.25" height="206.70"><rect x="0" y="-3.80" width="18.25" height="402.70" fill="url(#pd)"/></svg>
<rect x="259.50" y="1283.80" width="18.25" height="206.70" fill="none" stroke="#262626" stroke-width="1.4"/>
<rect x="277.75" y="1283.80" width="18.25" height="206.70" fill="#4b4b4d" stroke="#333" stroke-width="1.2"/>
<svg x="320.00" y="1249.55" width="18.25" height="240.95"><rect x="0" y="-73.55" width="18.25" height="436.95" fill="url(#pw)"/></svg>
<rect x="320.00" y="1249.55" width="18.25" height="240.95" fill="none" stroke="#262626" stroke-width="1.4"/>
<path d="M319.70 1249.35h18.85" stroke="#111" stroke-width="1.9"/>
<rect x="338.25" y="1242.55" width="18.25" height="247.95" fill="url(#ph)"/>
<rect x="338.25" y="1242.55" width="18.25" height="247.95" fill="none" stroke="#262626" stroke-width="1.4"/>
<path d="M337.95 1242.35h18.85" stroke="#111" stroke-width="1.9"/>
<svg x="356.50" y="1247.80" width="18.25" height="242.70"><rect x="0" y="-127.80" width="18.25" height="438.70" fill="url(#pd)"/></svg>
<rect x="356.50" y="1247.80" width="18.25" height="242.70" fill="none" stroke="#262626" stroke-width="1.4"/>
<path d="M356.20 1247.60h18.85" stroke="#111" stroke-width="1.9"/>
<rect x="374.75" y="1226.55" width="18.25" height="263.95" fill="#4b4b4d" stroke="#333" stroke-width="1.2"/>
<path d="M374.45 1226.35h18.85" stroke="#111" stroke-width="1.9"/>
<svg x="417.00" y="1405.80" width="18.25" height="84.70"><rect x="0" y="-33.80" width="18.25" height="280.70" fill="url(#pw)"/></svg>
<rect x="417.00" y="1405.80" width="18.25" height="84.70" fill="none" stroke="#262626" stroke-width="1.4"/>
<path d="M416.70 1405.60h18.85" stroke="#111" stroke-width="1.9"/>
<rect x="435.25" y="1162.80" width="18.25" height="327.70" fill="url(#ph)"/>
<rect x="435.25" y="1162.80" width="18.25" height="327.70" fill="none" stroke="#262626" stroke-width="1.4"/>
<path d="M434.95 1162.60h18.85" stroke="#111" stroke-width="1.9"/>
<svg x="453.50" y="1220.30" width="18.25" height="270.20"><rect x="0" y="-100.30" width="18.25" height="466.20" fill="url(#pd)"/></svg>
<rect x="453.50" y="1220.30" width="18.25" height="270.20" fill="none" stroke="#262626" stroke-width="1.4"/>
<path d="M453.20 1220.10h18.85" stroke="#111" stroke-width="1.9"/>
<rect x="471.75" y="1267.55" width="18.25" height="222.95" fill="#4b4b4d" stroke="#333" stroke-width="1.2"/>
<path d="M471.45 1267.35h18.85" stroke="#111" stroke-width="1.9"/>
<svg x="514.00" y="1269.05" width="18.25" height="221.45"><rect x="0" y="-93.05" width="18.25" height="417.45" fill="url(#pw)"/></svg>
<rect x="514.00" y="1269.05" width="18.25" height="221.45" fill="none" stroke="#262626" stroke-width="1.4"/>
<path d="M513.70 1268.85h18.85" stroke="#111" stroke-width="1.9"/>
<rect x="532.25" y="1139.55" width="18.25" height="350.95" fill="url(#ph)"/>
<rect x="532.25" y="1139.55" width="18.25" height="350.95" fill="none" stroke="#262626" stroke-width="1.4"/>
<path d="M531.95 1139.35h18.85" stroke="#111" stroke-width="1.9"/>
<svg x="550.50" y="1184.80" width="18.25" height="305.70"><rect x="0" y="-64.80" width="18.25" height="501.70" fill="url(#pd)"/></svg>
<rect x="550.50" y="1184.80" width="18.25" height="305.70" fill="none" stroke="#262626" stroke-width="1.4"/>
<path d="M550.20 1184.60h18.85" stroke="#111" stroke-width="1.9"/>
<rect x="568.75" y="1308.80" width="18.25" height="181.70" fill="#4b4b4d" stroke="#333" stroke-width="1.2"/>
<path d="M568.45 1308.60h18.85" stroke="#111" stroke-width="1.9"/>
<svg x="611.00" y="1281.30" width="18.25" height="209.20"><rect x="0" y="-105.30" width="18.25" height="405.20" fill="url(#pw)"/></svg>
<rect x="611.00" y="1281.30" width="18.25" height="209.20" fill="none" stroke="#262626" stroke-width="1.4"/>
<path d="M610.70 1281.10h18.85" stroke="#111" stroke-width="1.9"/>
<rect x="629.25" y="1250.30" width="18.25" height="240.20" fill="url(#ph)"/>
<rect x="629.25" y="1250.30" width="18.25" height="240.20" fill="none" stroke="#262626" stroke-width="1.4"/>
<path d="M628.95 1250.10h18.85" stroke="#111" stroke-width="1.9"/>
<svg x="647.50" y="1220.30" width="18.25" height="270.20"><rect x="0" y="-100.30" width="18.25" height="466.20" fill="url(#pd)"/></svg>
<rect x="647.50" y="1220.30" width="18.25" height="270.20" fill="none" stroke="#262626" stroke-width="1.4"/>
<path d="M647.20 1220.10h18.85" stroke="#111" stroke-width="1.9"/>
<rect x="665.75" y="1277.80" width="18.25" height="212.70" fill="#4b4b4d" stroke="#333" stroke-width="1.2"/>
<path d="M665.45 1277.60h18.85" stroke="#111" stroke-width="1.9"/>
<svg x="708.00" y="1284.55" width="18.25" height="205.95"><rect x="0" y="-108.55" width="18.25" height="401.95" fill="url(#pw)"/></svg>
<rect x="708.00" y="1284.55" width="18.25" height="205.95" fill="none" stroke="#262626" stroke-width="1.4"/>
<path d="M707.70 1284.35h18.85" stroke="#111" stroke-width="1.9"/>
<rect x="726.25" y="1216.30" width="18.25" height="274.20" fill="url(#ph)"/>
<rect x="726.25" y="1216.30" width="18.25" height="274.20" fill="none" stroke="#262626" stroke-width="1.4"/>
<path d="M725.95 1216.10h18.85" stroke="#111" stroke-width="1.9"/>
<svg x="744.50" y="1241.30" width="18.25" height="249.20"><rect x="0" y="-121.30" width="18.25" height="445.20" fill="url(#pd)"/></svg>
<rect x="744.50" y="1241.30" width="18.25" height="249.20" fill="none" stroke="#262626" stroke-width="1.4"/>
<path d="M744.20 1241.10h18.85" stroke="#111" stroke-width="1.9"/>
<rect x="762.75" y="1360.80" width="18.25" height="129.70" fill="#4b4b4d" stroke="#333" stroke-width="1.2"/>
<path d="M762.45 1360.60h18.85" stroke="#111" stroke-width="1.9"/>
<svg x="805.00" y="1285.30" width="18.25" height="205.20"><rect x="0" y="-109.30" width="18.25" height="401.20" fill="url(#pw)"/></svg>
<rect x="805.00" y="1285.30" width="18.25" height="205.20" fill="none" stroke="#262626" stroke-width="1.4"/>
<path d="M804.70 1285.10h18.85" stroke="#111" stroke-width="1.9"/>
<rect x="823.25" y="1245.30" width="18.25" height="245.20" fill="url(#ph)"/>
<rect x="823.25" y="1245.30" width="18.25" height="245.20" fill="none" stroke="#262626" stroke-width="1.4"/>
<path d="M822.95 1245.10h18.85" stroke="#111" stroke-width="1.9"/>
<svg x="841.50" y="1158.30" width="18.25" height="332.20"><rect x="0" y="-38.30" width="18.25" height="528.20" fill="url(#pd)"/></svg>
<rect x="841.50" y="1158.30" width="18.25" height="332.20" fill="none" stroke="#262626" stroke-width="1.4"/>
<path d="M841.20 1158.10h18.85" stroke="#111" stroke-width="1.9"/>
<rect x="859.75" y="1257.05" width="18.25" height="233.45" fill="#4b4b4d" stroke="#333" stroke-width="1.2"/>
<path d="M859.45 1256.85h18.85" stroke="#111" stroke-width="1.9"/>
<svg x="902.00" y="1276.30" width="18.25" height="214.20"><rect x="0" y="-100.30" width="18.25" height="410.20" fill="url(#pw)"/></svg>
<rect x="902.00" y="1276.30" width="18.25" height="214.20" fill="none" stroke="#262626" stroke-width="1.4"/>
<path d="M901.70 1276.10h18.85" stroke="#111" stroke-width="1.9"/>
<rect x="920.25" y="1205.80" width="18.25" height="284.70" fill="url(#ph)"/>
<rect x="920.25" y="1205.80" width="18.25" height="284.70" fill="none" stroke="#262626" stroke-width="1.4"/>
<path d="M919.95 1205.60h18.85" stroke="#111" stroke-width="1.9"/>
<svg x="938.50" y="1233.30" width="18.25" height="257.20"><rect x="0" y="-113.30" width="18.25" height="453.20" fill="url(#pd)"/></svg>
<rect x="938.50" y="1233.30" width="18.25" height="257.20" fill="none" stroke="#262626" stroke-width="1.4"/>
<path d="M938.20 1233.10h18.85" stroke="#111" stroke-width="1.9"/>
<rect x="956.75" y="1255.80" width="18.25" height="234.70" fill="#4b4b4d" stroke="#333" stroke-width="1.2"/>
<path d="M956.45 1255.60h18.85" stroke="#111" stroke-width="1.9"/>
<path d="M162.5 1075V1490.5H1035.5" stroke="#3c3c3c" stroke-width="1.4" fill="none"/>
<path d="M162.5 1283.4H1035.5" stroke="#1c1c1c" stroke-width="1.6"/>
<path d="M156.0 1075.00H162.5" stroke="#3c3c3c" stroke-width="1.4"/>
<text x="150.5" y="1083.05" font-size="23.2" text-anchor="end" textLength="65.1" lengthAdjust="spacingAndGlyphs">10000</text>
<path d="M156.0 1126.94H162.5" stroke="#3c3c3c" stroke-width="1.4"/>
<text x="150.5" y="1134.99" font-size="23.2" text-anchor="end" textLength="52.1" lengthAdjust="spacingAndGlyphs">1000</text>
<path d="M156.0 1178.88H162.5" stroke="#3c3c3c" stroke-width="1.4"/>
<text x="150.5" y="1186.93" font-size="23.2" text-anchor="end" textLength="39.0" lengthAdjust="spacingAndGlyphs">100</text>
<path d="M156.0 1230.82H162.5" stroke="#3c3c3c" stroke-width="1.4"/>
<text x="150.5" y="1238.87" font-size="23.2" text-anchor="end" textLength="26.0" lengthAdjust="spacingAndGlyphs">10</text>
<path d="M156.0 1282.76H162.5" stroke="#3c3c3c" stroke-width="1.4"/>
<text x="150.5" y="1290.81" font-size="23.2" text-anchor="end" textLength="13.0" lengthAdjust="spacingAndGlyphs">1</text>
<path d="M156.0 1334.70H162.5" stroke="#3c3c3c" stroke-width="1.4"/>
<text x="150.5" y="1342.75" font-size="23.2" text-anchor="end" textLength="32.5" lengthAdjust="spacingAndGlyphs">0.1</text>
<path d="M156.0 1386.64H162.5" stroke="#3c3c3c" stroke-width="1.4"/>
<text x="150.5" y="1394.69" font-size="23.2" text-anchor="end" textLength="45.5" lengthAdjust="spacingAndGlyphs">0.01</text>
<path d="M156.0 1438.58H162.5" stroke="#3c3c3c" stroke-width="1.4"/>
<text x="150.5" y="1446.63" font-size="23.2" text-anchor="end" textLength="58.6" lengthAdjust="spacingAndGlyphs">0.001</text>
<path d="M156.0 1490.52H162.5" stroke="#3c3c3c" stroke-width="1.4"/>
<text x="150.5" y="1498.57" font-size="23.2" text-anchor="end" textLength="71.6" lengthAdjust="spacingAndGlyphs">0.0001</text>
<path d="M259.50 1490.5v6.5" stroke="#3c3c3c" stroke-width="1.4"/>
<text x="250.5" y="1527" font-size="21.4" text-anchor="middle">Control (0)</text>
<path d="M356.50 1490.5v6.5" stroke="#3c3c3c" stroke-width="1.4"/>
<text x="358.50" y="1527" font-size="21.4" text-anchor="middle">2</text>
<path d="M453.50 1490.5v6.5" stroke="#3c3c3c" stroke-width="1.4"/>
<text x="455.50" y="1527" font-size="21.4" text-anchor="middle">6</text>
<path d="M550.50 1490.5v6.5" stroke="#3c3c3c" stroke-width="1.4"/>
<text x="552.50" y="1527" font-size="21.4" text-anchor="middle">12</text>
<path d="M647.50 1490.5v6.5" stroke="#3c3c3c" stroke-width="1.4"/>
<text x="649.50" y="1527" font-size="21.4" text-anchor="middle">24</text>
<path d="M744.50 1490.5v6.5" stroke="#3c3c3c" stroke-width="1.4"/>
<text x="746.50" y="1527" font-size="21.4" text-anchor="middle">48</text>
<path d="M841.50 1490.5v6.5" stroke="#3c3c3c" stroke-width="1.4"/>
<text x="843.50" y="1527" font-size="21.4" text-anchor="middle">72</text>
<path d="M938.50 1490.5v6.5" stroke="#3c3c3c" stroke-width="1.4"/>
<text x="940.50" y="1527" font-size="21.4" text-anchor="middle">96</text>
<text x="599" y="1569.8" font-size="21.5" text-anchor="middle">Hours after inoculation</text>
<text transform="translate(59.0 1281.4) rotate(-90)" font-size="21.3" text-anchor="middle">Relative expression (Log 10 RQ)</text>
<text x="210.4" y="1110.5" font-size="21.5" fill="#222">(c)</text>
<text x="552.5" y="1115.7" font-size="23.4" font-style="italic">CaPR5</text>
<text x="348.75" y="1229.12" font-size="29.5" text-anchor="middle" fill="#111" stroke="#111" stroke-width="0.35">*</text>
<text x="349.95" y="1248.12" font-size="29.5" text-anchor="middle" fill="#111" stroke="#111" stroke-width="0.35">*</text>
<text x="383.25" y="1214.37" font-size="29.5" text-anchor="middle" fill="#111" stroke="#111" stroke-width="0.35">*</text>
<text x="384.45" y="1233.62" font-size="29.5" text-anchor="middle" fill="#111" stroke="#111" stroke-width="0.35">*</text>
<text x="443.25" y="1150.37" font-size="29.5" text-anchor="middle" fill="#111" stroke="#111" stroke-width="0.35">*</text>
<text x="444.45" y="1169.37" font-size="29.5" text-anchor="middle" fill="#111" stroke="#111" stroke-width="0.35">*</text>
<text x="463.00" y="1206.12" font-size="29.5" text-anchor="middle" fill="#111" stroke="#111" stroke-width="0.35">*</text>
<text x="464.20" y="1225.37" font-size="29.5" text-anchor="middle" fill="#111" stroke="#111" stroke-width="0.35">*</text>
<text x="482.50" y="1255.37" font-size="29.5" text-anchor="middle" fill="#111" stroke="#111" stroke-width="0.35">*</text>
<text x="483.70" y="1274.87" font-size="29.5" text-anchor="middle" fill="#111" stroke="#111" stroke-width="0.35">*</text>
<text x="523.25" y="1256.87" font-size="29.5" text-anchor="middle" fill="#111" stroke="#111" stroke-width="0.35">*</text>
<text x="524.45" y="1276.62" font-size="29.5" text-anchor="middle" fill="#111" stroke="#111" stroke-width="0.35">*</text>
<text x="540.00" y="1128.62" font-size="29.5" text-anchor="middle" fill="#111" stroke="#111" stroke-width="0.35">*</text>
<text x="541.20" y="1147.87" font-size="29.5" text-anchor="middle" fill="#111" stroke="#111" stroke-width="0.35">*</text>
<text x="559.50" y="1171.62" font-size="29.5" text-anchor="middle" fill="#111" stroke="#111" stroke-width="0.35">*</text>
<text x="560.70" y="1191.12" font-size="29.5" text-anchor="middle" fill="#111" stroke="#111" stroke-width="0.35">*</text>
<text x="620.50" y="1286.12" font-size="29.5" text-anchor="middle" fill="#111" stroke="#111" stroke-width="0.35">*</text>
<text x="637.50" y="1237.87" font-size="29.5" text-anchor="middle" fill="#111" stroke="#111" stroke-width="0.35">*</text>
<text x="638.70" y="1256.62" font-size="29.5" text-anchor="middle" fill="#111" stroke="#111" stroke-width="0.35">*</text>
<text x="656.50" y="1206.12" font-size="29.5" text-anchor="middle" fill="#111" stroke="#111" stroke-width="0.35">*</text>
<text x="657.70" y="1225.37" font-size="29.5" text-anchor="middle" fill="#111" stroke="#111" stroke-width="0.35">*</text>
<text x="717.00" y="1289.12" font-size="29.5" text-anchor="middle" fill="#111" stroke="#111" stroke-width="0.35">*</text>
<text x="734.25" y="1203.62" font-size="29.5" text-anchor="middle" fill="#111" stroke="#111" stroke-width="0.35">*</text>
<text x="735.45" y="1222.37" font-size="29.5" text-anchor="middle" fill="#111" stroke="#111" stroke-width="0.35">*</text>
<text x="755.75" y="1228.62" font-size="29.5" text-anchor="middle" fill="#111" stroke="#111" stroke-width="0.35">*</text>
<text x="756.95" y="1248.12" font-size="29.5" text-anchor="middle" fill="#111" stroke="#111" stroke-width="0.35">*</text>
<text x="813.75" y="1289.87" font-size="29.5" text-anchor="middle" fill="#111" stroke="#111" stroke-width="0.35">*</text>
<text x="830.75" y="1233.62" font-size="29.5" text-anchor="middle" fill="#111" stroke="#111" stroke-width="0.35">*</text>
<text x="831.95" y="1252.37" font-size="29.5" text-anchor="middle" fill="#111" stroke="#111" stroke-width="0.35">*</text>
<text x="850.50" y="1145.37" font-size="29.5" text-anchor="middle" fill="#111" stroke="#111" stroke-width="0.35">*</text>
<text x="851.70" y="1164.37" font-size="29.5" text-anchor="middle" fill="#111" stroke="#111" stroke-width="0.35">*</text>
<text x="869.50" y="1244.12" font-size="29.5" text-anchor="middle" fill="#111" stroke="#111" stroke-width="0.35">*</text>
<text x="870.70" y="1263.12" font-size="29.5" text-anchor="middle" fill="#111" stroke="#111" stroke-width="0.35">*</text>
<text x="910.00" y="1263.62" font-size="29.5" text-anchor="middle" fill="#111" stroke="#111" stroke-width="0.35">*</text>
<text x="911.20" y="1283.12" font-size="29.5" text-anchor="middle" fill="#111" stroke="#111" stroke-width="0.35">*</text>
<text x="929.50" y="1192.87" font-size="29.5" text-anchor="middle" fill="#111" stroke="#111" stroke-width="0.35">*</text>
<text x="930.70" y="1212.37" font-size="29.5" text-anchor="middle" fill="#111" stroke="#111" stroke-width="0.35">*</text>
<text x="946.75" y="1218.62" font-size="29.5" text-anchor="middle" fill="#111" stroke="#111" stroke-width="0.35">*</text>
<text x="947.95" y="1237.87" font-size="29.5" text-anchor="middle" fill="#111" stroke="#111" stroke-width="0.35">*</text>
<text x="966.25" y="1242.37" font-size="29.5" text-anchor="middle" fill="#111" stroke="#111" stroke-width="0.35">*</text>
<text x="967.45" y="1261.87" font-size="29.5" text-anchor="middle" fill="#111" stroke="#111" stroke-width="0.35">*</text>
<svg x="90.7" y="1610.5" width="52.5" height="15"><rect width="52.5" height="35" fill="url(#pw)"/><rect x="18.25" width="18.25" height="35" fill="url(#pw)" transform="translate(0,-9)"/><rect x="36.5" width="18.25" height="35" fill="url(#pw)" transform="translate(0,-21)"/></svg>
<rect x="90.7" y="1610.5" width="52.5" height="15" fill="none" stroke="#262626" stroke-width="1.3"/>
<text x="156.6" y="1625.5" font-size="23.4">Garnica</text>
<svg x="260.8" y="1610.5" width="52.4" height="15"><rect width="52.4" height="35" fill="url(#ph)"/></svg>
<rect x="260.8" y="1610.5" width="52.4" height="15" fill="none" stroke="#262626" stroke-width="1.3"/>
<text x="326.6" y="1625.5" font-size="23.8">Garnica/Oro Azteca</text>
<svg x="556.5" y="1608" width="53" height="16.5"><rect width="53" height="36.5" fill="url(#pd)"/></svg>
<rect x="556.5" y="1608" width="53" height="16.5" fill="none" stroke="#262626" stroke-width="1.3"/>
<text x="621.9" y="1623" font-size="21.5">Oro Azteca</text>
<rect x="750.2" y="1608" width="52.3" height="16.5" fill="#4b4b4d" stroke="#333" stroke-width="1.2"/>
<text x="815.7" y="1623" font-size="21.5">Oro Azteca/Garnica</text>
</svg>
</body></html>
